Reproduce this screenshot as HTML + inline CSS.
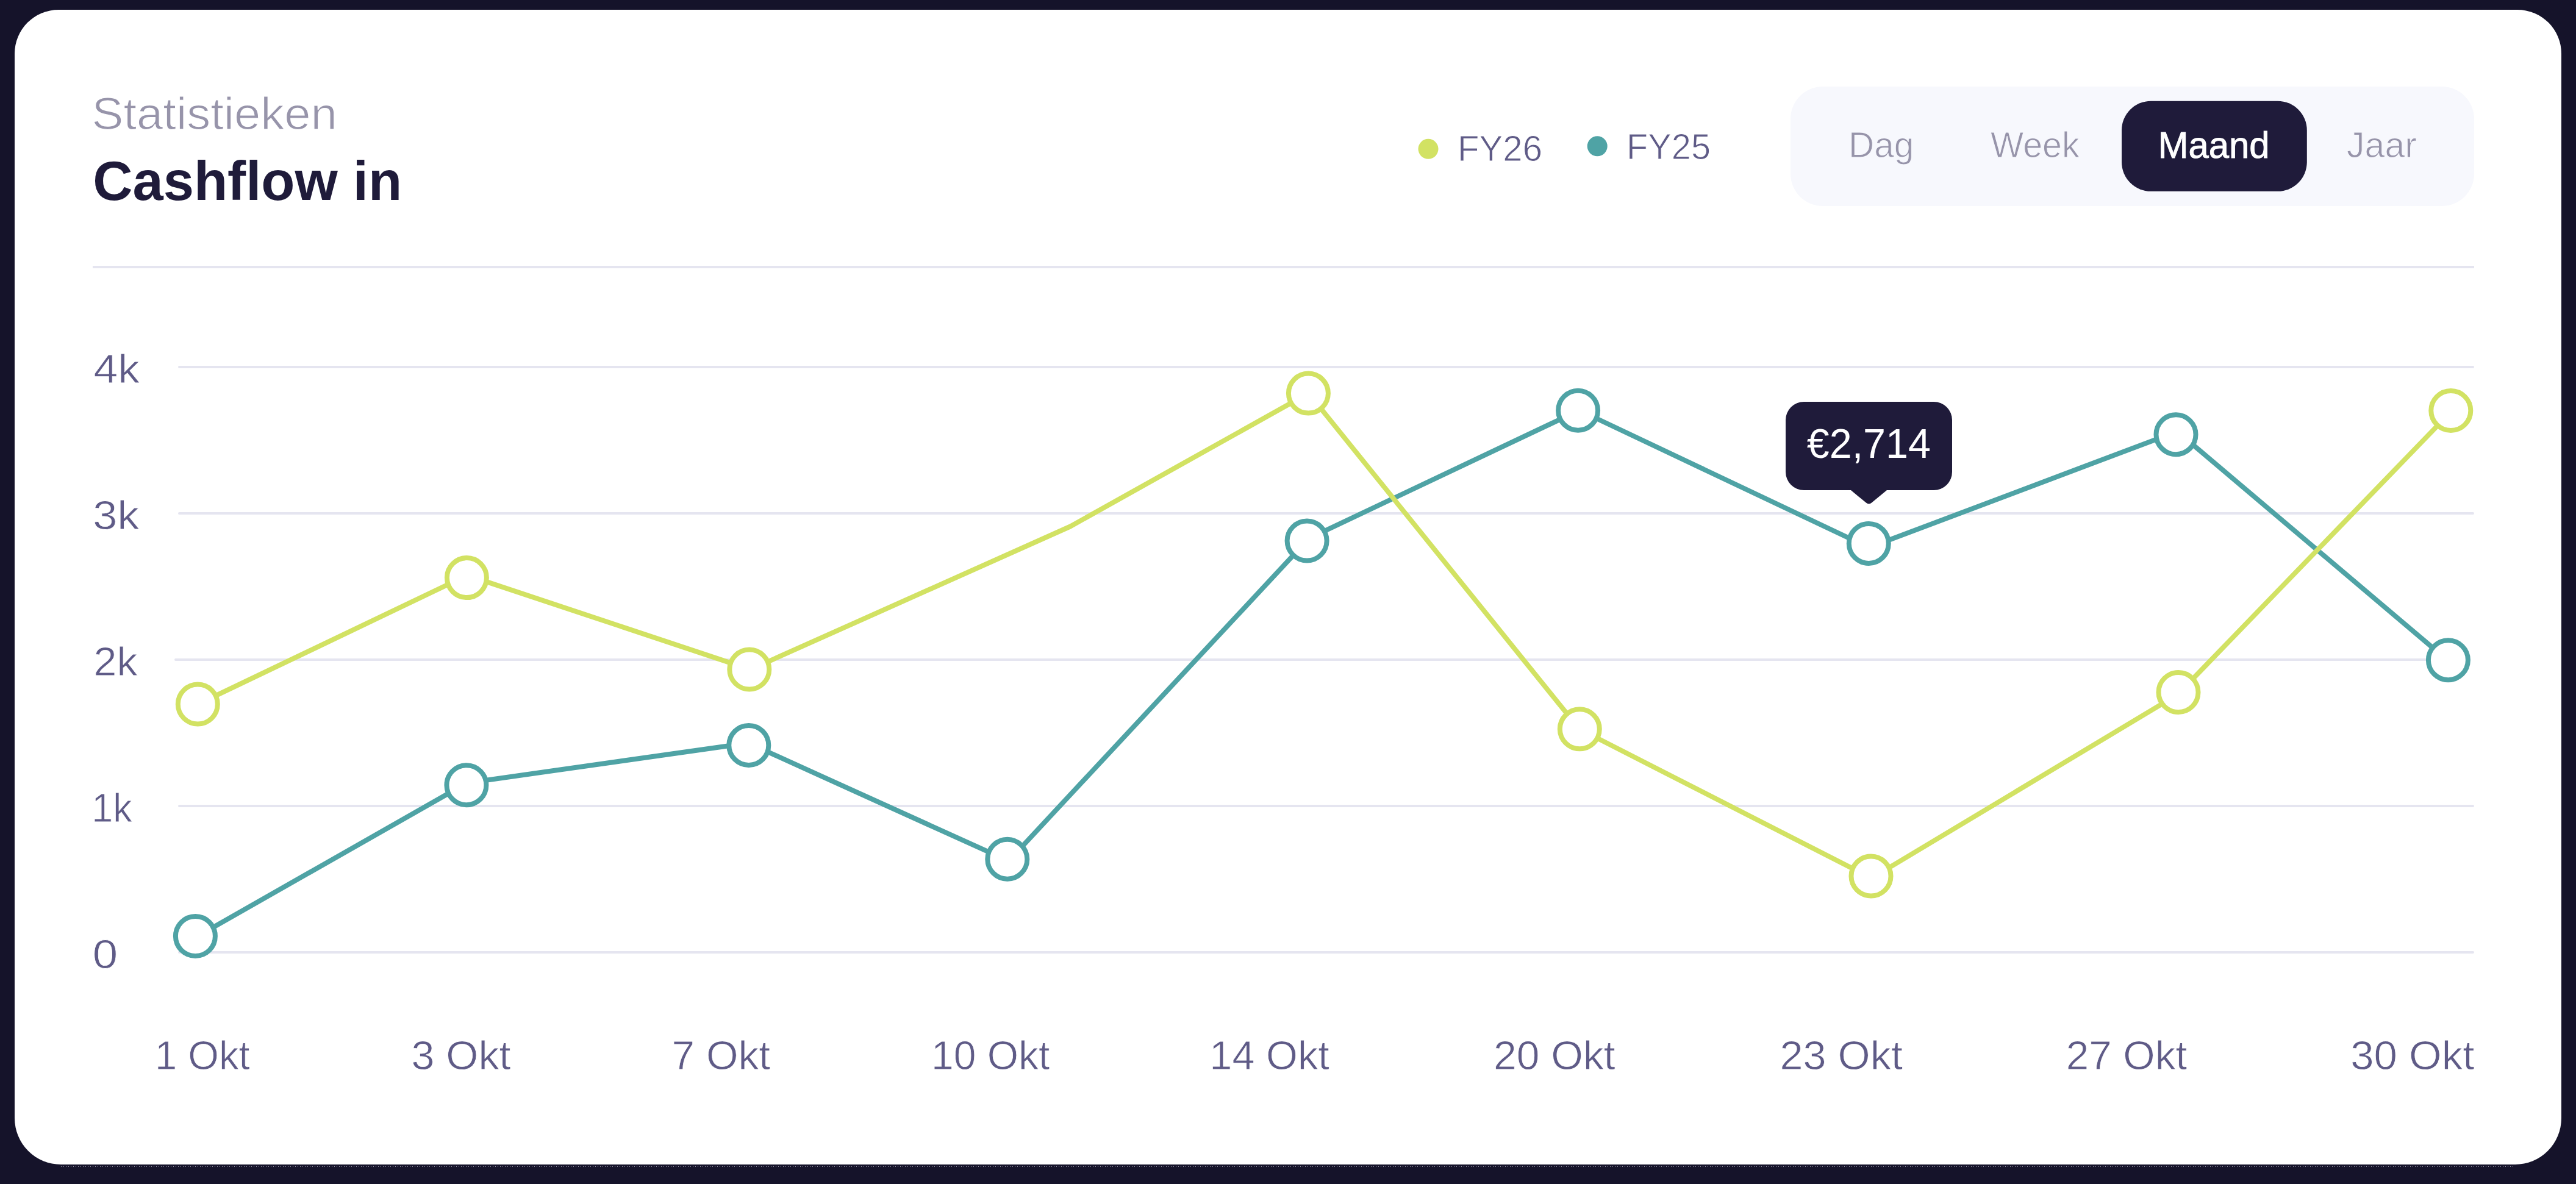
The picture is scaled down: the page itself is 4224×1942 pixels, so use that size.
<!DOCTYPE html>
<html><head><meta charset="utf-8"><title>Cashflow in</title>
<style>
html,body{margin:0;padding:0;background:#15132a;width:4224px;height:1942px;}
svg{display:block;font-family:"Liberation Sans",sans-serif;}
</style></head><body>
<svg width="4224" height="1942" viewBox="0 0 4224 1942">
<path d="M96,16 H4128 A72,72 0 0 1 4200,88 V1834 A76,76 0 0 1 4124,1910 H100 A76,76 0 0 1 24,1834 V88 A72,72 0 0 1 96,16 Z" fill="#ffffff"/>
<line x1="100" y1="1913.5" x2="4124" y2="1913.5" stroke="#c9c9d6" stroke-width="1" stroke-dasharray="1 3" opacity="0.8"/>
<rect x="152" y="436" width="3905" height="4" fill="#e5e5f0"/>
<circle cx="2342" cy="244.3" r="16.5" fill="#d2e263"/>
<circle cx="2619.2" cy="239.8" r="16.5" fill="#4fa3a5"/>
<rect x="2936" y="142" width="1121" height="196" rx="53" fill="#f7f8fd"/>
<rect x="3479" y="165.7" width="303.8" height="148.1" rx="48" fill="#1f1b3a"/>
<line x1="294" y1="602" x2="4055" y2="602" stroke="#e5e5f0" stroke-width="4" stroke-linecap="round"/>
<line x1="294" y1="842" x2="4055" y2="842" stroke="#e5e5f0" stroke-width="4" stroke-linecap="round"/>
<line x1="288" y1="1082" x2="4049" y2="1082" stroke="#e5e5f0" stroke-width="4" stroke-linecap="round"/>
<line x1="294" y1="1322" x2="4055" y2="1322" stroke="#e5e5f0" stroke-width="4" stroke-linecap="round"/>
<line x1="294" y1="1562" x2="4055" y2="1562" stroke="#e5e5f0" stroke-width="4" stroke-linecap="round"/>
<polyline points="320.4,1537.6 765.5,1284.2 1226.9,1218.7 1653.9,1412.2 2146.7,882.8 2589.6,673.0 3064.8,898.1 3570.1,707.6 4014.4,1083.9" fill="none" stroke="#4fa3a5" stroke-width="8" stroke-linejoin="round"/>
<circle cx="320.4" cy="1535.5" r="32.5" fill="#fff" stroke="#4fa3a5" stroke-width="8"/>
<circle cx="764.9" cy="1287.7" r="32.5" fill="#fff" stroke="#4fa3a5" stroke-width="8"/>
<circle cx="1227.8" cy="1222.4" r="32.5" fill="#fff" stroke="#4fa3a5" stroke-width="8"/>
<circle cx="1651.8" cy="1409.2" r="32.5" fill="#fff" stroke="#4fa3a5" stroke-width="8"/>
<circle cx="2143.1" cy="887.0" r="32.5" fill="#fff" stroke="#4fa3a5" stroke-width="8"/>
<circle cx="2587.6" cy="673.2" r="32.5" fill="#fff" stroke="#4fa3a5" stroke-width="8"/>
<circle cx="3064.3" cy="891.4" r="32.5" fill="#fff" stroke="#4fa3a5" stroke-width="8"/>
<circle cx="3568.0" cy="712.7" r="32.5" fill="#fff" stroke="#4fa3a5" stroke-width="8"/>
<circle cx="4014.4" cy="1082.7" r="32.5" fill="#fff" stroke="#4fa3a5" stroke-width="8"/>
<polyline points="324.3,1155.2 766.1,943.6 1230.5,1098.1 1755.0,863.5 2145.7,645.0 2589.8,1195.8 3068.9,1440.4 3570.9,1139.1 4018.8,675.5" fill="none" stroke="#d2e263" stroke-width="8" stroke-linejoin="round"/>
<circle cx="324.3" cy="1155.0" r="32.5" fill="#fff" stroke="#d2e263" stroke-width="8"/>
<circle cx="765.4" cy="947.6" r="32.5" fill="#fff" stroke="#d2e263" stroke-width="8"/>
<circle cx="1228.8" cy="1098.0" r="32.5" fill="#fff" stroke="#d2e263" stroke-width="8"/>
<circle cx="2145.4" cy="645.1" r="32.5" fill="#fff" stroke="#d2e263" stroke-width="8"/>
<circle cx="2590.3" cy="1195.8" r="32.5" fill="#fff" stroke="#d2e263" stroke-width="8"/>
<circle cx="3068.0" cy="1437.0" r="32.5" fill="#fff" stroke="#d2e263" stroke-width="8"/>
<circle cx="3572.0" cy="1135.5" r="32.5" fill="#fff" stroke="#d2e263" stroke-width="8"/>
<circle cx="4018.8" cy="673.5" r="32.5" fill="#fff" stroke="#d2e263" stroke-width="8"/>
<rect x="2928" y="659" width="273" height="145" rx="30" fill="#1f1b3a"/>
<path d="M3030.2,800 L3098.8,800 L3069.1,824.6 Q3064.5,828.5 3059.9,824.6 Z" fill="#1f1b3a"/>
<text id="stat" x="150.6" y="212.2" font-size="74.0" font-weight="400" fill="#9794aa" textLength="402.2" lengthAdjust="spacingAndGlyphs" stroke="#ffffff" stroke-width="1.20">Statistieken</text>
<text id="cash" x="152.2" y="328.0" font-size="90.0" font-weight="700" fill="#1f1b3a" textLength="506.9" lengthAdjust="spacingAndGlyphs">Cashflow in</text>
<text id="fy26" x="2390.1" y="264.1" font-size="59.0" font-weight="400" fill="#5f5b87" textLength="138.9" lengthAdjust="spacingAndGlyphs" stroke="#ffffff" stroke-width="1.00">FY26</text>
<text id="fy25" x="2667.1" y="260.7" font-size="59.0" font-weight="400" fill="#5f5b87" textLength="137.9" lengthAdjust="spacingAndGlyphs" stroke="#ffffff" stroke-width="1.00">FY25</text>
<text id="dag" x="3031.1" y="258.1" font-size="59.0" font-weight="400" fill="#9794aa" textLength="107.2" lengthAdjust="spacingAndGlyphs" stroke="#f7f8fd" stroke-width="1.00">Dag</text>
<text id="week" x="3264.0" y="258.1" font-size="59.0" font-weight="400" fill="#9794aa" textLength="145.7" lengthAdjust="spacingAndGlyphs" stroke="#f7f8fd" stroke-width="1.00">Week</text>
<text id="maand" x="3538.8" y="258.7" font-size="60.5" font-weight="400" fill="#ffffff" textLength="182.8" lengthAdjust="spacingAndGlyphs" stroke="#ffffff" stroke-width="0.90">Maand</text>
<text id="jaar" x="3848.0" y="258.1" font-size="59.0" font-weight="400" fill="#9794aa" textLength="114.9" lengthAdjust="spacingAndGlyphs" stroke="#f7f8fd" stroke-width="1.00">Jaar</text>
<text id="y4" x="153.6" y="628.3" font-size="67.5" font-weight="400" fill="#5f5b87" textLength="75.4" lengthAdjust="spacingAndGlyphs" stroke="#ffffff" stroke-width="0.80">4k</text>
<text id="y3" x="152.2" y="868.3" font-size="67.5" font-weight="400" fill="#5f5b87" textLength="76.2" lengthAdjust="spacingAndGlyphs" stroke="#ffffff" stroke-width="0.80">3k</text>
<text id="y2" x="153.6" y="1108.3" font-size="67.5" font-weight="400" fill="#5f5b87" textLength="71.9" lengthAdjust="spacingAndGlyphs" stroke="#ffffff" stroke-width="0.80">2k</text>
<text id="y1" x="150.2" y="1348.3" font-size="67.5" font-weight="400" fill="#5f5b87" textLength="66.4" lengthAdjust="spacingAndGlyphs" stroke="#ffffff" stroke-width="0.80">1k</text>
<text id="y0" x="151.7" y="1588.3" font-size="67.5" font-weight="400" fill="#5f5b87" textLength="41.4" lengthAdjust="spacingAndGlyphs" stroke="#ffffff" stroke-width="0.80">0</text>
<text id="x1" x="254.0" y="1753.5" font-size="67.5" font-weight="400" fill="#5f5b87" textLength="155.6" lengthAdjust="spacingAndGlyphs" stroke="#ffffff" stroke-width="0.80">1 Okt</text>
<text id="x3" x="674.4" y="1753.5" font-size="67.5" font-weight="400" fill="#5f5b87" textLength="163.1" lengthAdjust="spacingAndGlyphs" stroke="#ffffff" stroke-width="0.80">3 Okt</text>
<text id="x7" x="1101.5" y="1753.5" font-size="67.5" font-weight="400" fill="#5f5b87" textLength="161.6" lengthAdjust="spacingAndGlyphs" stroke="#ffffff" stroke-width="0.80">7 Okt</text>
<text id="x10" x="1527.0" y="1753.5" font-size="67.5" font-weight="400" fill="#5f5b87" textLength="194.3" lengthAdjust="spacingAndGlyphs" stroke="#ffffff" stroke-width="0.80">10 Okt</text>
<text id="x14" x="1983.3" y="1753.5" font-size="67.5" font-weight="400" fill="#5f5b87" textLength="196.6" lengthAdjust="spacingAndGlyphs" stroke="#ffffff" stroke-width="0.80">14 Okt</text>
<text id="x20" x="2449.0" y="1753.5" font-size="67.5" font-weight="400" fill="#5f5b87" textLength="199.7" lengthAdjust="spacingAndGlyphs" stroke="#ffffff" stroke-width="0.80">20 Okt</text>
<text id="x23" x="2918.6" y="1753.5" font-size="67.5" font-weight="400" fill="#5f5b87" textLength="201.3" lengthAdjust="spacingAndGlyphs" stroke="#ffffff" stroke-width="0.80">23 Okt</text>
<text id="x27" x="3387.7" y="1753.5" font-size="67.5" font-weight="400" fill="#5f5b87" textLength="198.5" lengthAdjust="spacingAndGlyphs" stroke="#ffffff" stroke-width="0.80">27 Okt</text>
<text id="x30" x="3854.2" y="1753.5" font-size="67.5" font-weight="400" fill="#5f5b87" textLength="203.2" lengthAdjust="spacingAndGlyphs" stroke="#ffffff" stroke-width="0.80">30 Okt</text>
<text id="tip" x="2962.8" y="751.4" font-size="68.0" font-weight="400" fill="#ffffff" textLength="203.1" lengthAdjust="spacingAndGlyphs">€2,714</text>
</svg>
</body></html>
